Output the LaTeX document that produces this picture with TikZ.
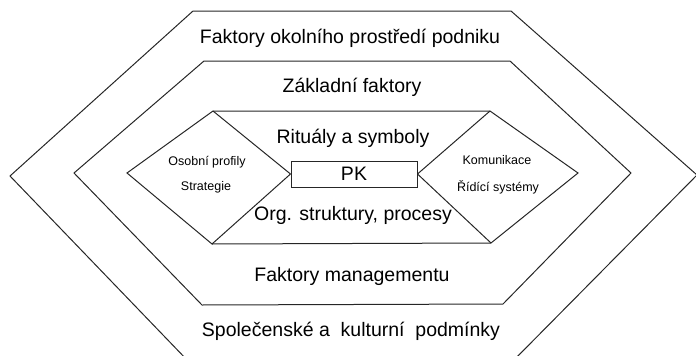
\documentclass[tikz,border=0pt]{standalone}
\usepackage{fontspec}
\setmainfont{Liberation Sans}
\usepackage{tikz}
\usetikzlibrary{shapes,arrows,positioning,fit}

\begin{document}
\begin{tikzpicture}[x=1pt,y=-1pt]
			\tikzstyle{Corner}	= [coordinate]
			\tikzstyle{Edge}	= [line width=1pt, black!85, line join=miter]
			\tikzstyle{Big}		= [font=\fontsize{19.5}{22}\selectfont, inner sep=0pt]
			\tikzstyle{Small}	= [font=\fontsize{12.5}{14}\selectfont, inner sep=0pt]
			\tikzstyle{Core}	= [draw, line width=1pt, black!85, text=black, minimum width=126pt, minimum height=26pt, inner sep=0pt]

			\useasboundingbox (0,0) rectangle (696,356);
			\clip (0,0) rectangle (696,356);

			% outer ring
			\node (o1) at (10,176) [Corner] {};
			\node (o2) at (193,11) [Corner] {};
			\node (o3) at (511,11) [Corner] {};
			\node (o4) at (697,175) [Corner] {};
			\node (o5) at (512,362) [Corner] {};
			\node (o6) at (189,362) [Corner] {};
			% middle ring
			\node (m1) at (74,173) [Corner] {};
			\node (m2) at (204,61) [Corner] {};
			\node (m3) at (510,61) [Corner] {};
			\node (m4) at (631,173) [Corner] {};
			\node (m5) at (503,304) [Corner] {};
			\node (m6) at (202,305) [Corner] {};
			% inner ring
			\node (i1) at (127,173) [Corner] {};
			\node (i2) at (213,111) [Corner] {};
			\node (i3) at (490,111) [Corner] {};
			\node (i4) at (578,173) [Corner] {};
			\node (i5) at (491,243) [Corner] {};
			\node (i6) at (212,244) [Corner] {};

			\draw [Edge] (o1) -- (o2) -- (o3) -- (o4) -- (o5) -- (o6) -- cycle;
			\draw [Edge] (m1) -- (m2) -- (m3) -- (m4) -- (m5) -- (m6) -- cycle;
			\draw [Edge] (i1) -- (i2) -- (i3) -- (i4) -- (i5) -- (i6) -- cycle;

			\node (pk) at (354,174) [Core][Big] {PK};

			\draw [-] (i2) to (pk.west) [Edge];
			\draw [-] (i6) to (pk.west) [Edge];
			\draw [-] (i3) to (pk.east) [Edge];
			\draw [-] (i5) to (pk.east) [Edge];

			\node (env) at (350,38) [Big] {Faktory okolního prostředí podniku};
			\node (base) at (352,87) [Big] {Základní faktory};
			\node (rit) at (353,138) [Big] {Rituály a symboly};
			\node (org) at (353,215) [Big] {Org. struktury, procesy};
			\node (man) at (352,276) [Big] {Faktory managementu};
			\node (soc) at (351,331) [Big] {Společenské a\ \ kulturní\ \ podmínky};
			\node (prof) at (207,162) [Small] {Osobní profily};
			\node (strat) at (206,187) [Small] {Strategie};
			\node (kom) at (497,160) [Small] {Komunikace};
			\node (rid) at (498,187) [Small] {Řídící systémy};
		\end{tikzpicture}
\end{document}
